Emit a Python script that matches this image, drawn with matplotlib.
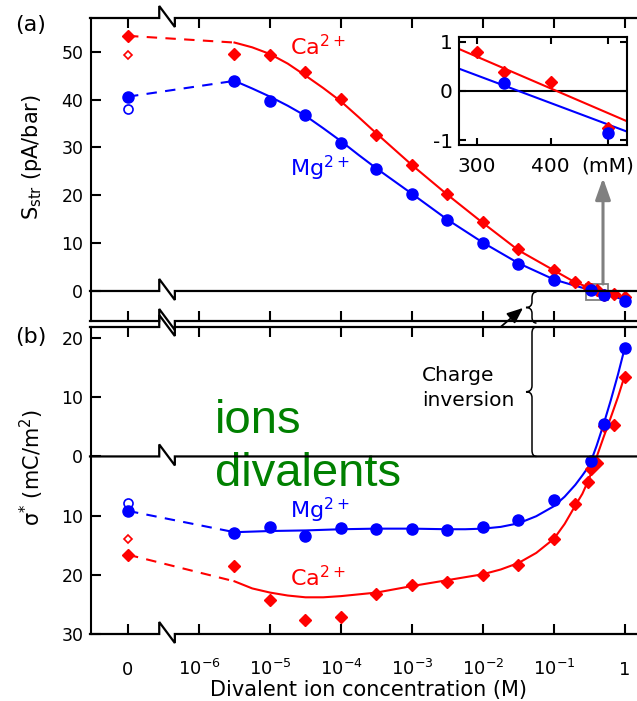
import numpy as np
import matplotlib

matplotlib.use("Agg")
import matplotlib.pyplot as plt
from matplotlib.lines import Line2D
from matplotlib.path import Path
from matplotlib.patches import PathPatch, Rectangle
from matplotlib.transforms import IdentityTransform
from matplotlib.ticker import NullLocator

plt.rcParams["axes.unicode_minus"] = False

# ---- measured points (concentration in M, 0 = no divalent salt) ----
ca_conc = [0, 3.16e-6, 1e-5, 3.16e-5, 1e-4, 3.16e-4, 1e-3, 3.16e-3, 1e-2,
           3.16e-2, 0.1, 0.2, 0.3, 0.333, 0.4, 0.5, 0.7, 1.0]
ca_S = [53.3, 49.5, 49.4, 45.7, 40.1, 32.6, 26.3, 20.2, 14.4,
        8.7, 4.4, 1.95, 0.80, 0.38, 0.18, -0.76, -0.6, -1.3]
ca_sigma = [-16.6, -18.5, -24.3, -27.7, -27.1, -23.3, -21.7, -21.2, -20.1,
            -18.3, -13.9, -8.1, -4.4, -2.1, -1.1, 5.1, 5.3, 13.4]

mg_conc = [0, 3.16e-6, 1e-5, 3.16e-5, 1e-4, 3.16e-4, 1e-3, 3.16e-3, 1e-2,
           3.16e-2, 0.1, 0.333, 0.5, 1.0]
mg_S = [40.6, 43.9, 39.7, 36.8, 31.0, 25.5, 20.3, 14.8, 10.0,
        5.6, 2.3, 0.16, -0.85, -2.0]
mg_sigma = [-9.2, -12.9, -11.9, -13.5, -12.1, -12.2, -12.2, -12.4, -12.0,
            -10.7, -7.3, -0.84, 5.5, 18.4]

# open symbols at zero concentration
ca_S_open, mg_S_open = 49.4, 38.0
ca_sigma_open, mg_sigma_open = -13.9, -7.9

# ---- model curves (log10 of concentration) ----
fit_log_a = [-5.5, -5.25, -5, -4.75, -4.5, -4.25, -4, -3.75, -3.5, -3, -2.5,
             -2, -1.5, -1, -0.75, -0.5, -0.25, 0]
fit_ca_S = [51.9, 50.9, 49.5, 47.5, 45.0, 42.4, 39.6, 36.3, 32.9, 26.3, 20.1,
            14.2, 8.5, 4.3, 2.2, 0.6, -0.6, -1.3]
fit_mg_S = [43.9, 42.3, 40.6, 38.7, 36.6, 34.0, 31.3, 28.4, 25.6, 20.3, 14.9,
            10.1, 5.8, 2.4, 1.3, 0.25, -0.9, -1.8]

fit_log_ca_b = [-5.5, -5.25, -5, -4.75, -4.5, -4.25, -4, -3.5, -3, -2.5, -2,
                -1.75, -1.5, -1.25, -1, -0.85, -0.7, -0.6, -0.5, -0.4, -0.3,
                -0.2, -0.1, 0]
fit_ca_sigma = [-21.1, -22.3, -23.0, -23.5, -23.8, -23.8, -23.6, -23.0, -21.9,
                -20.9, -19.9, -19.1, -18.0, -16.3, -13.9, -11.4, -8.3, -6.3,
                -3.6, -0.1, 3.3, 6.6, 10.0, 13.8]
fit_log_mg_b = [-5.5, -5, -4.5, -4, -3.5, -3, -2.5, -2.25, -2, -1.75, -1.5,
                -1.25, -1, -0.85, -0.7, -0.6, -0.5, -0.4, -0.3, -0.2, -0.1, 0]
fit_mg_sigma = [-12.8, -12.6, -12.5, -12.3, -12.2, -12.2, -12.3, -12.3, -12.2,
                -11.9, -11.3, -10.1, -8.4, -6.8, -4.8, -3.2, -1.5, 1.8, 5.5,
                9.5, 13.8, 18.5]

# inset linear fits (mM)
inset_fit_mM = [280, 540]
inset_fit_ca = [0.85, -0.62]
inset_fit_mg = [0.45, -0.83]

xtick_vals = [0, 1e-6, 1e-5, 1e-4, 1e-3, 1e-2, 1e-1, 1]
xtick_labels = ["0", "$10^{-6}$", "$10^{-5}$", "$10^{-4}$", "$10^{-3}$",
                "$10^{-2}$", "$10^{-1}$", "1"]
sig_ticks = [-30, -20, -10, 0, 10, 20]
sig_labels = ["30", "20", "10", "0", "10", "20"]

RED, BLUE = "#ff0000", "#0000ff"
DASH = (0, (5, 4))


def fwd(c):
    c = np.asarray(c, dtype=float)
    return np.where(c > 0, np.log10(np.where(c > 0, c, 1.0)), -7.0)


def inv(p):
    return 10.0 ** np.asarray(p, dtype=float)


W, H = 637, 701
fig = plt.figure(figsize=(W / 100, H / 100), dpi=100)


def rect(l, t, r, b):
    return [l / W, 1 - b / H, (r - l) / W, (b - t) / H]


ax_a = fig.add_axes(rect(91, 18, 637, 321))
ax_b = fig.add_axes(rect(91, 327, 637, 634))
ax_in = fig.add_axes(rect(459.3, 37.3, 627.3, 145))

for ax in (ax_a, ax_b):
    ax.set_xscale("function", functions=(fwd, inv))
    for s in ("top", "bottom", "right"):
        ax.spines[s].set_visible(False)
    ax.spines["left"].set_linewidth(1.5)
    ax.set_xticks(xtick_vals)
    ax.xaxis.set_minor_locator(NullLocator())
    ax.set_xlim(10 ** -7.521, 10 ** 0.169)
    ax.tick_params(axis="both", direction="in", length=7, width=1.5,
                   labelsize=12.5, top=True, bottom=True)
    ax.tick_params(axis="y", pad=5.5)

ax_a.set_ylim(-6.27, 57.03)
ax_a.set_yticks([0, 10, 20, 30, 40, 50])
ax_a.tick_params(axis="x", labelbottom=False)

ax_b.set_ylim(-30, 21.87)
ax_b.set_yticks(sig_ticks)
ax_b.set_yticklabels(sig_labels)
ax_b.set_xticklabels(xtick_labels)
ax_b.set_xlim(10 ** -7.521, 10 ** 0.169)
ax_b.tick_params(axis="x", pad=29.5, labelsize=13)
for lab in ax_b.get_xticklabels():
    lab.set_va("baseline")

fc_log_a = inv(fit_log_a)

# ---- panel (a) ----
ax_a.plot([0, fc_log_a[0]], [ca_S[0], fit_ca_S[0]], color=RED, lw=1.5, ls=DASH)
ax_a.plot([0, fc_log_a[0]], [mg_S[0], fit_mg_S[0]], color=BLUE, lw=1.5, ls=DASH)
ax_a.plot(fc_log_a, fit_ca_S, color=RED, lw=1.5)
ax_a.plot(fc_log_a, fit_mg_S, color=BLUE, lw=1.5)
ax_a.plot(ca_conc, ca_S, "D", color=RED, ms=6, zorder=4)
ax_a.plot(mg_conc, mg_S, "o", color=BLUE, ms=8, zorder=4)
ax_a.plot([0], [ca_S_open], "D", mfc="white", mec=RED, ms=4.5, mew=1.2)
ax_a.plot([0], [mg_S_open], "o", mfc="white", mec=BLUE, ms=6.5, mew=1.2)

ax_a.text(1.9e-5, 49.3, "Ca$^{2+}$", color=RED, fontsize=16, va="baseline")
ax_a.text(1.9e-5, 23.9, "Mg$^{2+}$", color=BLUE, fontsize=16, va="baseline")

ax_a.add_patch(Rectangle((0.282, -1.88), 0.293, 3.34, fill=False,
                         ec="#808080", lw=1.3, zorder=3))
ax_a.annotate("", xy=(0.49, 23.6), xytext=(0.49, 1.46),
              arrowprops=dict(arrowstyle="-|>,head_length=0.65,head_width=0.23",
                              color="#808080", lw=2.2, mutation_scale=20,
                              shrinkA=0, shrinkB=0))

# ---- panel (b) ----
ax_b.plot([0, 10 ** fit_log_ca_b[0]], [ca_sigma[0], fit_ca_sigma[0]],
          color=RED, lw=1.5, ls=DASH)
ax_b.plot([0, 10 ** fit_log_mg_b[0]], [mg_sigma[0], fit_mg_sigma[0]],
          color=BLUE, lw=1.5, ls=DASH)
ax_b.plot(inv(fit_log_ca_b), fit_ca_sigma, color=RED, lw=1.5)
ax_b.plot(inv(fit_log_mg_b), fit_mg_sigma, color=BLUE, lw=1.5)
ax_b.plot(ca_conc, ca_sigma, "D", color=RED, ms=6, zorder=4)
ax_b.plot(mg_conc, mg_sigma, "o", color=BLUE, ms=8, zorder=4)
ax_b.plot([0], [ca_sigma_open], "D", mfc="white", mec=RED, ms=4.5, mew=1.2)
ax_b.plot([0], [mg_sigma_open], "o", mfc="white", mec=BLUE, ms=6.5, mew=1.2)

ax_b.text(1.9e-5, -10.4, "Mg$^{2+}$", color=BLUE, fontsize=16, va="baseline")
ax_b.text(1.9e-5, -21.9, "Ca$^{2+}$", color=RED, fontsize=16, va="baseline")

ax_b.text(1.7e-6, 3.9, "ions", color="#008000", fontsize=34,
          family="Liberation Sans", va="baseline")
ax_b.text(1.7e-6, -5.0, "divalents", color="#008000", fontsize=34,
          family="Liberation Sans", va="baseline")

ax_b.text(1.38e-3, 12.77, "Charge", fontsize=14.5, va="baseline")
ax_b.text(1.38e-3, 8.55, "inversion", fontsize=14.5, va="baseline")
ax_a.annotate("", xy=(0.0366, -3.55), xycoords=ax_a.transData,
              xytext=(0.0056, 16.8), textcoords=ax_b.transData,
              annotation_clip=False,
              arrowprops=dict(arrowstyle="-|>,head_length=0.6,head_width=0.25",
                              color="k", lw=1.3, mutation_scale=16,
                              shrinkA=0, shrinkB=0))

# ---- inset ----
ax_in.set_xscale("log")
ax_in.xaxis.set_minor_locator(NullLocator())
ax_in.set_xticks([300, 400, 500])
ax_in.set_xticklabels(["300", "400", "(mM)"])
ax_in.set_xlim(280, 540)
ax_in.set_ylim(-1.1, 1.09)
ax_in.set_yticks([-1, 0, 1])
ax_in.tick_params(direction="in", length=5, width=1.5, labelsize=14.5,
                  top=True, right=True)
ax_in.tick_params(axis="x", pad=8.6)
ax_in.tick_params(axis="y", pad=4.8)
for s in ax_in.spines.values():
    s.set_linewidth(1.5)
ax_in.axhline(0, color="k", lw=1.5)
ax_in.plot(inset_fit_mM, inset_fit_ca, color=RED, lw=1.5)
ax_in.plot(inset_fit_mM, inset_fit_mg, color=BLUE, lw=1.5)
ax_in.plot(np.array(ca_conc) * 1000, ca_S, "D", color=RED, ms=6, zorder=4)
ax_in.plot(np.array(mg_conc) * 1000, mg_S, "o", color=BLUE, ms=8, zorder=4)

# ---- broken horizontal lines and braces (pixel space) ----
BRK_LO, BRK_HI = 10 ** -6.56, 10 ** -6.34


def hline_break(ax, yval, up=12, down=9):
    T = ax.transData
    xl = ax.transAxes.transform((0, 0))[0]
    xr = ax.transAxes.transform((1, 0))[0] + 2
    xa, yd = T.transform((BRK_LO, yval))
    xb = T.transform((BRK_HI, yval))[0]
    fig.add_artist(Line2D([xl - 1, xa, xa, xb, xb, xr],
                          [yd, yd, yd + up, yd - down, yd, yd],
                          transform=IdentityTransform(), color="k", lw=1.6,
                          solid_joinstyle="miter"))


def brace(ax, xc, y_top, y_bot, tip=6, curl=4.5):
    T = ax.transData
    x0, yt = T.transform((xc, y_top))
    yb = T.transform((xc, y_bot))[1]
    ym = (yt + yb) / 2
    r = min(6.0, (yt - yb) / 5)
    verts = [(x0 + curl, yt), (x0, yt), (x0, yt - r), (x0, ym + r), (x0, ym),
             (x0 - tip, ym), (x0, ym), (x0, ym - r), (x0, yb + r), (x0, yb),
             (x0 + curl, yb)]
    codes = [Path.MOVETO, Path.CURVE3, Path.CURVE3, Path.LINETO, Path.CURVE3,
             Path.CURVE3, Path.CURVE3, Path.CURVE3, Path.LINETO, Path.CURVE3,
             Path.CURVE3]
    fig.add_artist(PathPatch(Path(verts, codes), fill=False, ec="k", lw=1.1,
                             transform=IdentityTransform()))


for ax in (ax_a, ax_b):
    lo, hi = ax.get_ylim()
    hline_break(ax, hi)
    hline_break(ax, 0)
    hline_break(ax, lo)

brace(ax_a, 0.049, -0.2, -6.7)
brace(ax_b, 0.049, 21.87, 0)

# ---- labels ----
fig.text(15 / W, 1 - 30.7 / H, "(a)", fontsize=16, va="baseline")
fig.text(15 / W, 1 - 343 / H, "(b)", fontsize=16, va="baseline")
fig.text(32 / W, 1 - 157 / H, "S$_{\\mathrm{str}}$ (pA/bar)", rotation=90,
         ha="center", va="center", fontsize=15)
fig.text(32 / W, 1 - 468 / H, "σ$^{*}$ (mC/m$^{2}$)", rotation=90,
         ha="center", va="center", fontsize=15)
fig.text(369 / W, 1 - 690 / H, "Divalent ion concentration (M)",
         ha="center", va="center", fontsize=15)

fig.savefig("out.png", dpi=100)
